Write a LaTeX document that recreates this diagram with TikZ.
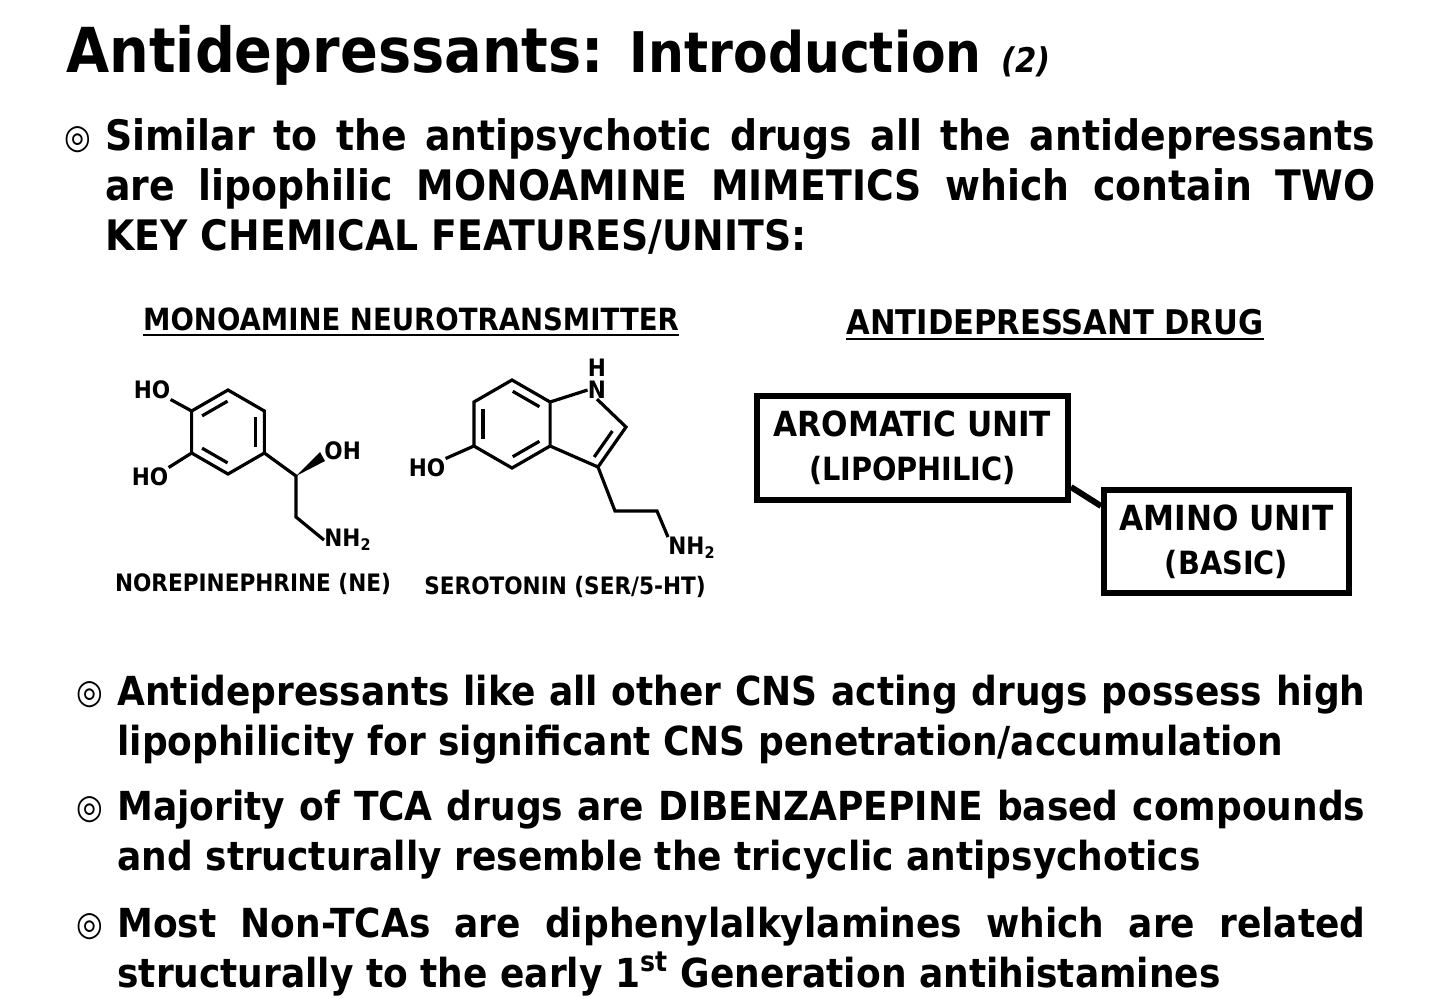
\documentclass[tikz,border=0pt]{standalone}
\usepackage{fontspec}
\setmainfont{DejaVu Sans Condensed}[BoldFont={DejaVu Sans Condensed Bold},ItalicFont={DejaVu Sans Condensed Oblique},BoldItalicFont={DejaVu Sans Condensed Bold Oblique}]
\usetikzlibrary{positioning,calc}

\tikzset{
  bond/.style={line width=1.6pt},
  atom/.style={inner sep=0pt,font=\fontsize{12}{12}\selectfont\bfseries},
  line/.style={anchor=base west,inner sep=0pt,font=\fontsize{21}{25}\selectfont\bfseries},
  lowline/.style={line,font=\fontsize{20}{25}\selectfont\bfseries},
  bul/.style={anchor=base west,inner sep=0pt,font=\fontsize{17}{17}\selectfont\bfseries},
  unitbox/.style={draw,line width=3pt,inner sep=0pt,font=\fontsize{17.3}{21}\selectfont\bfseries,align=center},
}
\newcommand{\fitline}[1]{\makebox[635pt][s]{#1}}

\begin{document}
\begin{tikzpicture}[x=0.5pt,y=-0.5pt]
    \useasboundingbox (0,0) rectangle (1450,998);
    % title
    \node[anchor=base west,inner sep=0pt] (title) at (66,72)
      {\bfseries\fontsize{31}{31}\selectfont Antidepressants: {\fontsize{28}{28}\selectfont Introduction} {\fontsize{17}{17}\selectfont\itshape (2)}};
    % first bullet
    \node[bul] (b1) at (64,148) {◎};
    \node[line] (l1a) at (105,150) {\fitline{Similar to the antipsychotic drugs all the antidepressants}};
    \node[line] (l1b) at (105,200) {\fitline{are lipophilic MONOAMINE MIMETICS which contain TWO}};
    \node[line] (l1c) at (105,250) {KEY CHEMICAL FEATURES/UNITS:};

    % headers
    \node[anchor=base,inner sep=0pt,font=\fontsize{15.3}{16}\selectfont\bfseries] (mnt) at (411,330) {MONOAMINE NEUROTRANSMITTER};
    \draw[line width=1.2pt] ([yshift=-2pt]mnt.south west) -- ([yshift=-2pt]mnt.south east);
    \node[anchor=base,inner sep=0pt,font=\fontsize{17}{18}\selectfont\bfseries] (adrug) at (1055,334) {ANTIDEPRESSANT DRUG};
    \draw[line width=1.2pt] ([yshift=-2pt]adrug.south west) -- ([yshift=-2pt]adrug.south east);

    % norepinephrine
    \foreach \n/\a in {t/90,ur/30,lr/-30,b/-90,ll/-150,ul/150}
      \coordinate (ne\n) at ($(228,432)+(\a:42 and -42)$);
    \draw[bond] (net) -- (neur) -- (nelr) -- (neb) -- (nell) -- (neul) -- cycle;
    \draw[bond] ($(neul)!0.15!(net)+(5,8)$) -- ($(neul)!0.85!(net)+(5,8)$);
    \draw[bond] ($(neur)!0.15!(nelr)+(-9,0)$) -- ($(neur)!0.85!(nelr)+(-9,0)$);
    \draw[bond] ($(nell)!0.15!(neb)+(5,-8)$) -- ($(nell)!0.85!(neb)+(5,-8)$);
    \node[atom] (neho1) at (152,390) {HO};
    \node[atom] (neho2) at (150,477) {HO};
    \draw[bond] (neul) -- (neho1.south east);
    \draw[bond] (nell) -- (neho2.north east);
    \coordinate (nec1) at (296,476);
    \coordinate (nec2) at (296,517);
    \node[atom,anchor=west] (neoh) at (324,451) {OH};
    \node[atom,anchor=west] (nenh) at (324,540) {NH\textsubscript{2}};
    \draw[bond] (nelr) -- (nec1) -- (nec2) -- (nenh.west);
    \fill (nec1) -- (320,452) -- (325,461) -- cycle;
    \node[inner sep=0pt,font=\fontsize{12}{12}\selectfont\bfseries] (nename) at (253,584) {NOREPINEPHRINE (NE)};

    % serotonin
    \foreach \n/\a in {t/90,ur/30,lr/-30,b/-90,ll/-150,ul/150}
      \coordinate (se\n) at ($(512,424)+(\a:44 and -44)$);
    \draw[bond] (set) -- (seur) -- (selr) -- (seb) -- (sell) -- (seul) -- cycle;
    \draw[bond] ($(seul)!0.15!(sell)+(9,0)$) -- ($(seul)!0.85!(sell)+(9,0)$);
    \draw[bond] ($(set)!0.15!(seur)+(-5,8)$) -- ($(set)!0.85!(seur)+(-5,8)$);
    \draw[bond] ($(selr)!0.15!(seb)+(-5,-8)$) -- ($(selr)!0.85!(seb)+(-5,-8)$);
    \node[atom] (sen) at (597,390) {N};
    \node[atom] (seh) at (597,368) {H};
    \coordinate (sec2) at (626,427);
    \coordinate (sec3) at (598,467);
    \draw[bond] (seur) -- (sen.west) (sen.south) -- (sec2) -- (sec3) -- (selr);
    \draw[bond] ($(sec2)!0.2!(sec3)+(-8,-4)$) -- ($(sec2)!0.85!(sec3)+(-8,-4)$);
    \node[atom] (seho) at (427,468) {HO};
    \draw[bond] (sell) -- (seho.north east);
    \node[atom,anchor=west] (senh) at (668,548) {NH\textsubscript{2}};
    \draw[bond] (sec3) -- (615,511) -- (657,511) -- (senh.north west);
    \node[inner sep=0pt,font=\fontsize{12}{12}\selectfont\bfseries] (sename) at (565,587) {SEROTONIN (SER/5-HT)};

    % drug units
    \node[unitbox,minimum width=155.5pt,minimum height=52pt] (arom) at (912.5,448) {AROMATIC UNIT\\[1pt]{\fontsize{16}{16}\selectfont(LIPOPHILIC)}};
    \node[unitbox,minimum width=122.5pt,minimum height=51.5pt] (amino) at (1226.5,541.5) {AMINO UNIT\\[1pt]{\fontsize{16}{16}\selectfont(BASIC)}};
    \draw[line width=3pt] (arom.east|-1070,487) -- (amino.west|-1104,506);

    % remaining bullets
    \node[bul] (b2) at (76,703) {◎};
    \node[lowline] (l2a) at (117,705) {\makebox[624pt][s]{Antidepressants like all other CNS acting drugs possess high}};
    \node[lowline] (l2b) at (117,755) {lipophilicity for significant CNS penetration/accumulation};
    \node[bul] (b3) at (76,818) {◎};
    \node[lowline] (l3a) at (117,820) {\makebox[624pt][s]{Majority of TCA drugs are DIBENZAPEPINE based compounds}};
    \node[lowline] (l3b) at (117,870) {and structurally resemble the tricyclic antipsychotics};
    \node[bul] (b4) at (76,935) {◎};
    \node[lowline] (l4a) at (117,937) {\makebox[624pt][s]{Most Non-TCAs are diphenylalkylamines which are related}};
    \node[lowline] (l4b) at (117,987) {structurally to the early 1\textsuperscript{st} Generation antihistamines};
\end{tikzpicture}
\end{document}
